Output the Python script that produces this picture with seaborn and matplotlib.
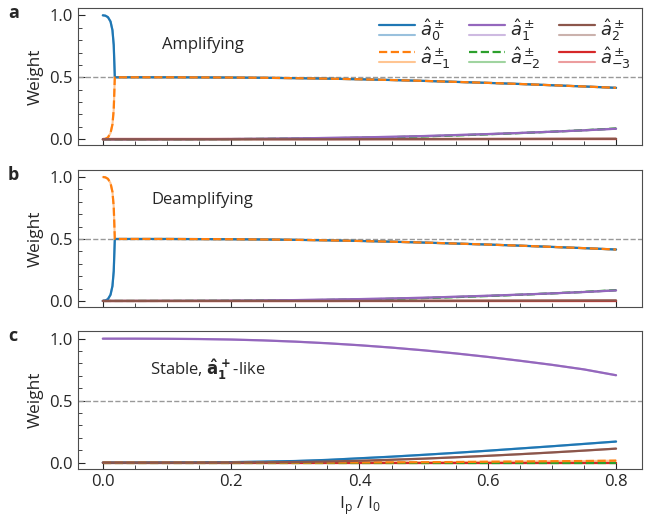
import numpy as np
import pandas as pd
import matplotlib
matplotlib.use('Agg')
import matplotlib.pyplot as plt
import seaborn as sns
from matplotlib.lines import Line2D
from matplotlib.legend_handler import HandlerBase
from matplotlib.ticker import MultipleLocator

# ---- data ----
x = [0.0, 0.004, 0.008, 0.012, 0.015, 0.017, 0.0187, 0.05, 0.1, 0.15, 0.2, 0.25,
     0.3, 0.35, 0.4, 0.45, 0.5, 0.55, 0.6, 0.65, 0.7, 0.75, 0.8]

# panel a: amplifying
a_blue = [1.0, 0.997, 0.985, 0.95, 0.88, 0.76, 0.5, 0.5, 0.5, 0.499, 0.498, 0.496,
          0.493, 0.489, 0.484, 0.478, 0.471, 0.463, 0.455, 0.446, 0.436, 0.426, 0.415]
a_orange = [0.0, 0.003, 0.015, 0.05, 0.12, 0.24, 0.5, 0.5, 0.5, 0.499, 0.498, 0.496,
            0.493, 0.489, 0.484, 0.478, 0.471, 0.463, 0.455, 0.446, 0.436, 0.426, 0.415]
# panel b: deamplifying
b_blue = [0.0, 0.003, 0.015, 0.05, 0.12, 0.24, 0.5, 0.5, 0.5, 0.499, 0.498, 0.496,
          0.493, 0.489, 0.484, 0.478, 0.471, 0.463, 0.455, 0.446, 0.436, 0.426, 0.415]
b_orange = [1.0, 0.997, 0.985, 0.95, 0.88, 0.76, 0.5, 0.5, 0.5, 0.499, 0.498, 0.496,
            0.493, 0.489, 0.484, 0.478, 0.471, 0.463, 0.455, 0.446, 0.436, 0.426, 0.415]
# shared small sidebands in a and b
ab_purple = [0, 0, 0, 0, 0, 0, 0, 0.0, 0.0005, 0.001, 0.002, 0.004,
             0.007, 0.011, 0.015, 0.02, 0.026, 0.034, 0.042, 0.051, 0.061, 0.072, 0.085]
ab_green = [0, 0, 0, 0, 0, 0, 0, 0.0, 0.0003, 0.0008, 0.0015, 0.003,
            0.005, 0.008, 0.012, 0.017, 0.023, 0.031, 0.040, 0.050, 0.061, 0.073, 0.087]
ab_brown = [0, 0, 0, 0, 0, 0, 0, 0, 0, 0, 0, 0,
            0, 0, 0.0005, 0.001, 0.001, 0.0015, 0.002, 0.0025, 0.003, 0.0035, 0.004]
ab_red = [0] * 23

# panel c: stable
c_purple = [1.0, 1.0, 1.0, 1.0, 1.0, 1.0, 1.0, 1.0, 0.999, 0.997, 0.993, 0.986,
            0.976, 0.963, 0.947, 0.928, 0.906, 0.881, 0.853, 0.822, 0.789, 0.752, 0.705]
c_blue = [0, 0, 0, 0, 0, 0, 0, 0.0, 0.001, 0.002, 0.004, 0.008,
          0.013, 0.022, 0.035, 0.048, 0.063, 0.079, 0.096, 0.114, 0.132, 0.151, 0.17]
c_brown = [0, 0, 0, 0, 0, 0, 0, 0, 0, 0, 0.001, 0.002,
           0.005, 0.009, 0.015, 0.023, 0.032, 0.043, 0.055, 0.068, 0.082, 0.097, 0.113]
c_orange = [0, 0, 0, 0, 0, 0, 0, 0, 0, 0, 0, 0,
            0, 0.0005, 0.001, 0.002, 0.003, 0.005, 0.007, 0.009, 0.011, 0.013, 0.016]
c_green = [0] * 23
c_red = [0] * 23

labels = [r'$\hat{a}_0^\pm$', r'$\hat{a}_{-1}^\pm$', r'$\hat{a}_1^\pm$',
          r'$\hat{a}_{-2}^\pm$', r'$\hat{a}_2^\pm$', r'$\hat{a}_{-3}^\pm$']
panel_text = ['Amplifying', 'Deamplifying', r'Stable, $\mathbf{\hat{a}_1^+}$-like']
panel_letters = ['a', 'b', 'c']

# ---- style ----
sns.set_style('ticks')
plt.rcParams['font.family'] = ['Open Sans', 'DejaVu Sans']
plt.rcParams['axes.edgecolor'] = '0.3'

colors = {'blue': '#1f77b4', 'orange': '#ff7f0e', 'purple': '#9467bd',
          'green': '#2ca02c', 'brown': '#8c564b', 'red': '#d62728'}
styles = {'blue': '-', 'orange': '--', 'purple': '-', 'green': '--', 'brown': '-', 'red': '-'}
legend_order = ['blue', 'orange', 'purple', 'green', 'brown', 'red']
draw_order = ['red', 'green', 'blue', 'orange', 'purple', 'brown']

panels = [
    {'blue': a_blue, 'orange': a_orange, 'purple': ab_purple, 'green': ab_green,
     'brown': ab_brown, 'red': ab_red},
    {'blue': b_blue, 'orange': b_orange, 'purple': ab_purple, 'green': ab_green,
     'brown': ab_brown, 'red': ab_red},
    {'blue': c_blue, 'orange': c_orange, 'purple': c_purple, 'green': c_green,
     'brown': c_brown, 'red': c_red},
]
text_pos = [(0.149, 0.73), (0.131, 0.78), (0.128, 0.72)]


class StackedHandler(HandlerBase):
    # dark line on top, faded line underneath
    def create_artists(self, legend, orig_handle, xdescent, ydescent,
                       width, height, fontsize, trans):
        dark, light = orig_handle
        out = []
        for h, yy in [(dark, 0.9 * height), (light, 0.1 * height)]:
            ln = Line2D([-xdescent, -xdescent + width], [yy - ydescent] * 2,
                        color=h.get_color(), linestyle=h.get_linestyle(),
                        linewidth=h.get_linewidth(), alpha=h.get_alpha())
            ln.set_transform(trans)
            out.append(ln)
        return out


fig, axes = plt.subplots(3, 1, figsize=(6.65, 5.25), dpi=100, sharex=True)
fig.subplots_adjust(left=0.117, right=0.965, top=0.985, bottom=0.107, hspace=0.175)

for i, ax in enumerate(axes):
    data = panels[i]
    ax.axhline(0.5, color='0.6', linestyle='--', linewidth=1.0, zorder=1)
    for key in draw_order:
        sns.lineplot(x=x, y=data[key], ax=ax, color=colors[key], alpha=0.45,
                     linewidth=1.5, linestyle='-', zorder=2)
    for key in draw_order:
        sns.lineplot(x=x, y=data[key], ax=ax, color=colors[key],
                     linewidth=1.6, linestyle=styles[key], zorder=3)
    ax.set_xlim(-0.039, 0.84)
    ax.set_ylim(-0.05, 1.06)
    ax.set_yticks([0.0, 0.5, 1.0])
    ax.set_yticklabels(['0.0', '0.5', '1.0'])
    ax.yaxis.set_minor_locator(MultipleLocator(0.1))
    ax.xaxis.set_minor_locator(MultipleLocator(0.05))
    ax.set_xticks([0.0, 0.2, 0.4, 0.6, 0.8])
    ax.tick_params(which='both', direction='in', color='0.15', labelsize=12)
    ax.tick_params(which='major', length=5)
    ax.tick_params(which='minor', length=3)
    ax.set_ylabel('Weight', fontsize=12.5)
    ax.text(text_pos[i][0], text_pos[i][1], panel_text[i], transform=ax.transAxes,
            fontsize=12, va='center', ha='left', color='0.15')
    fig.text(0.012, ax.get_position().y1 - 0.01, panel_letters[i],
             fontsize=13, fontweight='bold', va='center')

axes[2].set_xticklabels(['0.0', '0.2', '0.4', '0.6', '0.8'])
axes[2].set_xlabel(r'I$_\mathregular{p}$ / I$_\mathregular{0}$', fontsize=12.5)

handles = []
for key in legend_order:
    dark = Line2D([], [], color=colors[key], linestyle=styles[key], linewidth=1.6, alpha=1.0)
    light = Line2D([], [], color=colors[key], linestyle='-', linewidth=1.5, alpha=0.45)
    handles.append((dark, light))
axes[0].legend(handles, labels, ncol=3, loc='upper right', bbox_to_anchor=(1.01, 1.05),
               frameon=False, fontsize=13, handlelength=2.0, handletextpad=0.3,
               columnspacing=1.0, labelspacing=0.1,
               handler_map={tuple: StackedHandler()})

fig.savefig('out.png', dpi=100)
